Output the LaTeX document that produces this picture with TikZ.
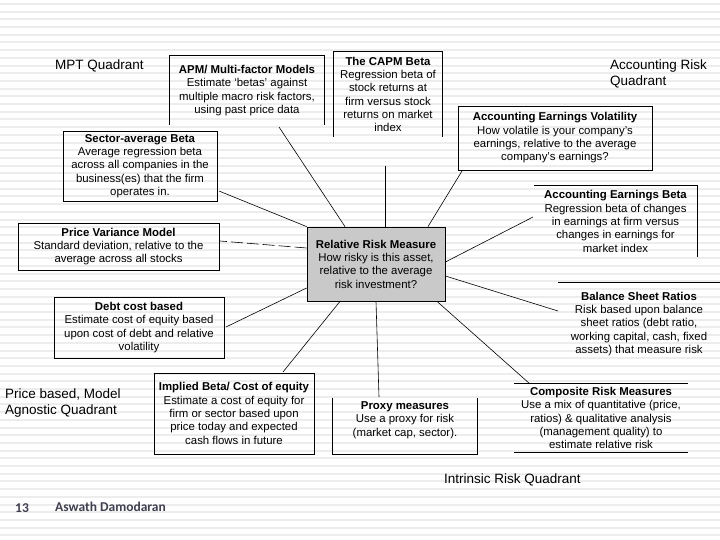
\documentclass[tikz,border=0pt]{standalone}
\usepackage{fontspec}
\setmainfont{Liberation Sans}
\newfontfamily\footfont{Carlito}
\definecolor{stripegray}{HTML}{EDEDED}
\definecolor{centerfill}{HTML}{C9C9C9}
\definecolor{footgray}{HTML}{3F3F4F}
\newcommand\myboxfont{\fontsize{11.4}{13.3}\selectfont\lineskiplimit=-10pt\relax}
\tikzset{
  stripe/.style={draw=stripegray, line width=2pt},
  boxtxt/.style={align=center, inner sep=0pt, font=\myboxfont},
  framed/.style={draw=black, line width=0.8pt},
  border/.style={draw=black, line width=0.8pt},
  conn/.style={draw=black, line width=0.6pt},
  quad/.style={font=\fontsize{13.5}{15.5}\selectfont, align=left, inner sep=0pt},
  foot/.style={font=\footfont\bfseries\fontsize{13.5}{15}\selectfont, text=footgray, inner sep=0pt}
}
\begin{document}
\begin{tikzpicture}[x=1pt,y=-1pt]
\useasboundingbox (0,0) rectangle (720,540);
\fill[white] (0,0) rectangle (720,540);
\foreach \i in {0,...,70} \draw[stripe] (0,4+7.7*\i) -- (720,4+7.7*\i);

% center
\node[boxtxt, framed, fill=centerfill, minimum width=138pt, minimum height=74pt] (rrm) at (376,264)
 {\textbf{Relative Risk Measure}\\How risky is this asset,\\relative to the average\\risk investment?};

% boxes
\node[boxtxt, minimum width=154pt, minimum height=69pt] (apm) at (247,90.5)
 {\textbf{APM/ Multi-factor Models}\\Estimate `betas' against\\multiple macro risk factors,\\using past price data};
\draw[border] (apm.south west) -- (apm.north west) -- (apm.north east) -- (apm.south east);

\node[boxtxt, minimum width=108pt, minimum height=85pt] (capm) at (388,94.5)
 {\textbf{The CAPM Beta}\\Regression beta of\\stock returns at\\firm versus stock\\returns on market\\index};
\draw[border] (capm.south west) -- (capm.north west) -- (capm.north east) -- (capm.south east);

\node[boxtxt, framed, minimum width=154pt, minimum height=70pt] (sector) at (140,166)
 {\textbf{Sector-average Beta}\\Average regression beta\\across all companies in the\\business(es) that the firm\\operates in.};

\node[boxtxt, framed, minimum width=194pt, minimum height=64pt] (accvol) at (555,138)
 {\textbf{Accounting Earnings Volatility}\\How volatile is your company's\\earnings, relative to the average\\company's earnings?};

\node[boxtxt, minimum width=163pt, minimum height=71pt] (accbeta) at (615.5,221.5)
 {\textbf{Accounting Earnings Beta}\\Regression beta of changes\\in earnings at firm versus\\changes in earnings for\\market index};
\draw[border] (accbeta.north west) -- (accbeta.north east) -- (accbeta.south east);

\node[boxtxt, framed, minimum width=201pt, minimum height=47pt] (pricevar) at (118.5,246.5)
 {\textbf{Price Variance Model}\\Standard deviation, relative to the\\average across all stocks};

\node[boxtxt, minimum width=162pt, minimum height=82pt] (balance) at (639,324)
 {\textbf{Balance Sheet Ratios}\\Risk based upon balance\\sheet ratios (debt ratio,\\working capital, cash, fixed\\assets) that measure risk};
\draw[border] (balance.north west) -- (balance.north east);

\node[boxtxt, framed, minimum width=170pt, minimum height=61pt] (debt) at (139,327.5)
 {\textbf{Debt cost based}\\Estimate cost of equity based\\upon cost of debt and relative\\volatility};

\node[boxtxt, framed, minimum width=160pt, minimum height=81pt] (implied) at (234,413.5)
 {\textbf{Implied Beta/ Cost of equity}\\Estimate a cost of equity for\\firm or sector based upon\\price today and expected\\cash flows in future};

\node[boxtxt, minimum width=144pt, minimum height=68pt] (proxy) at (405,420)
 {\textbf{Proxy measures}\\Use a proxy for risk\\(market cap, sector).};
\draw[border] ([yshift=-12pt]proxy.north west) -- (proxy.south west) -- (proxy.south east) -- ([yshift=-12pt]proxy.north east);

\node[boxtxt, minimum width=174pt, minimum height=68pt] (composite) at (601,418)
 {\textbf{Composite Risk Measures}\\Use a mix of quantitative (price,\\ratios) \& qualitative analysis\\(management quality) to\\estimate relative risk};
\draw[border] (composite.north west) -- (composite.north east);
\draw[border] (composite.south west) -- (composite.south east);

% connector end points
\coordinate (e-apm) at (279,127);
\coordinate (e-capm) at (385,166);
\coordinate (e-accvol) at (462,171);
\coordinate (e-accbeta) at (533,217);
\coordinate (e-balance) at (558,311);
\coordinate (e-comp) at (530,384);
\coordinate (e-proxy) at (379,397);
\coordinate (e-implied) at (283,372);
\coordinate (e-debt) at (226,327);
\coordinate (e-price) at (220,241);
\coordinate (e-sector) at (219,191);

\draw[conn] (rrm.north west -| 345,0) -- (e-apm);
\draw[conn] (rrm.north -| 385,0) -- (e-capm);
\draw[conn] (rrm.north -| 428,0) -- (e-accvol);
\draw[conn] (rrm.east |- 0,262) -- (e-accbeta);
\draw[conn] (rrm.east |- 0,276) -- (e-balance);
\draw[conn] (rrm.south -| 437,0) -- (e-comp);
\draw[conn] (rrm.south -| 376,0) -- (e-proxy);
\draw[conn] (rrm.south -| 340,0) -- (e-implied);
\draw[conn] (rrm.west |- 0,288) -- (e-debt);
\draw[conn, dash pattern=on 12pt off 4pt] (rrm.west |- 0,248) -- (e-price);
\draw[conn] (rrm.north west) -- (e-sector);

% quadrant labels
\node[quad, anchor=west] (q1) at (55,66) {MPT Quadrant};
\node[quad, anchor=north west] (q2) at (610,60) {Accounting Risk\\Quadrant};
\node[quad, anchor=north west] (q3) at (5,389) {Price based, Model\\Agnostic Quadrant};
\node[quad, anchor=west] (q4) at (444,480) {Intrinsic Risk Quadrant};

% footer
\node[foot, anchor=west] (pg) at (15,508) {13};
\node[foot, anchor=west] (au) at (55,507) {Aswath Damodaran};
\end{tikzpicture}
\end{document}
